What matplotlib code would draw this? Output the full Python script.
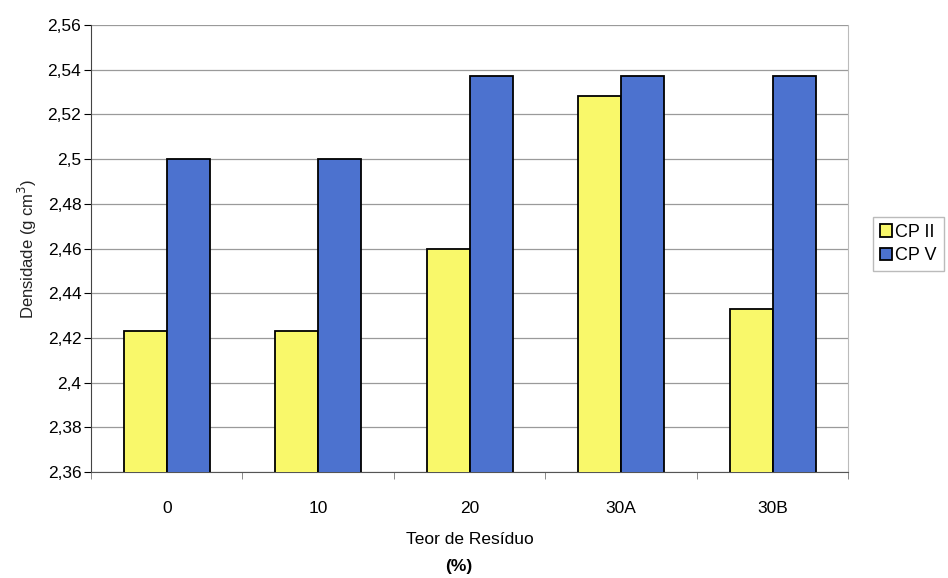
import numpy as np
import matplotlib.pyplot as plt
from matplotlib.ticker import FuncFormatter

plt.rcParams['font.family'] = ['Liberation Sans', 'DejaVu Sans']

categorias = ['0', '10', '20', '30A', '30B']
cp2 = [2.423, 2.423, 2.46, 2.528, 2.433]
cp5 = [2.50, 2.50, 2.537, 2.537, 2.537]

x = np.arange(len(categorias))
w = 0.285

fig = plt.figure(figsize=(9.48, 5.78), dpi=100)
ax = fig.add_axes([0.096, 0.183, 0.799, 0.774])

ax.bar(x - w/2, cp2, w, bottom=0, color='#F9F86A', edgecolor='black', lw=1.3, label='CP II', zorder=3)
ax.bar(x + w/2, cp5, w, bottom=0, color='#4C72CF', edgecolor='black', lw=1.3, label='CP V', zorder=3)

ax.set_ylim(2.36, 2.56)
ax.set_xlim(-0.5, 4.5)
ax.set_yticks(np.arange(2.36, 2.5601, 0.02))
ax.yaxis.set_major_formatter(FuncFormatter(lambda v, p: ('%g' % round(v, 2)).replace('.', ',')))
ax.grid(axis='y', color='#9a9a9a', lw=0.9, zorder=0)

ax.set_xticks(x, categorias)
ax.set_xticks(np.arange(-0.5, 5, 1), minor=True)
ax.tick_params(axis='x', which='major', length=0, pad=21, labelsize=12.5)
ax.tick_params(axis='x', which='minor', length=5, direction='out', color='#777777')
ax.tick_params(axis='y', length=5, direction='out', labelsize=12.5, pad=2)

ax.spines['top'].set_visible(False)
ax.spines['right'].set_color('#bbbbbb')
ax.spines['left'].set_color('#444444')
ax.spines['bottom'].set_color('#555555')

ax.set_ylabel('Densidade (g cm$^{3}$)', fontsize=12, color='#222222', labelpad=6)
ax.set_xlabel('Teor de Resíduo', fontsize=12.5, labelpad=11)
fig.text(0.484, 0.012, '(%)', fontsize=12.5, fontweight='bold', ha='center')

leg = ax.legend(loc='center left', bbox_to_anchor=(1.02, 0.51), frameon=True, fancybox=False,
                handlelength=0.7, handleheight=0.7, handletextpad=0.15, borderpad=0.4,
                labelspacing=0.35, fontsize=13, edgecolor='#aaaaaa')
plt.savefig('out.png', dpi=100)
